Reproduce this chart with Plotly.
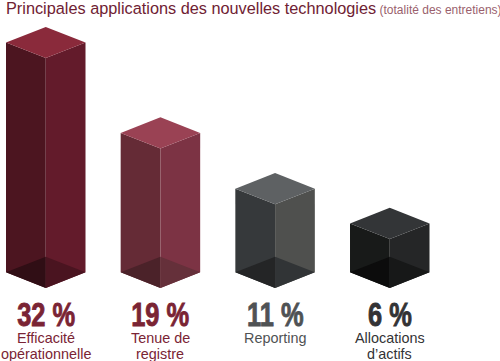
import plotly.graph_objects as go

categories = [["Efficacité", "opérationnelle"], ["Tenue de", "registre"], ["Reporting"], ["Allocations", "d’actifs"]]
values = [32, 19, 11, 6]
value_labels = ["32 %", "19 %", "11 %", "6 %"]
left_face = ["#4c1520", "#652b36", "#36393b", "#181a19"]
right_face = ["#631b2b", "#7c3344", "#4f504e", "#252627"]
top_face = ["#8a2a3b", "#9a4254", "#5e6163", "#333537"]
floor_left = ["#300e15", "#4b2229", "#242526", "#0c0c0c"]
floor_right = ["#4a1420", "#65303a", "#313436", "#171818"]
text_colors = ["#7a2434", "#7a2434", "#4f5254", "#333335"]

W, H = 500, 361
X0, DX = 45.75, 114.67       # px of first category, px between categories
Y0, DY = 280.8, 6.96         # px of value 0, px per value unit
half = 39.75 / DX            # half bar width in category units
depth = 15.6 / DY            # iso depth in value units
base = -1.03                 # front-bottom corner in value units


def face(fig, xs, ys, color):
    fig.add_trace(go.Scatter(x=xs + xs[:1], y=ys + ys[:1], mode="lines", fill="toself",
                             fillcolor=color, line=dict(width=0), hoverinfo="skip",
                             showlegend=False))


fig = go.Figure()
for i, v in enumerate(values):
    l, c, r = i - half, i, i + half
    face(fig, [l, c, c, l], [v + depth, v, base, base + depth], left_face[i])
    face(fig, [c, r, r, c], [v, v + depth, base + depth, base], right_face[i])
    face(fig, [l, c, r, c], [v + depth, v + 2 * depth, v + depth, v], top_face[i])
    face(fig, [l, c, c], [base + depth, base + 2 * depth, base], floor_left[i])
    face(fig, [c, r, c], [base + 2 * depth, base + depth, base], floor_right[i])

    fig.add_annotation(x=i, y=base, yshift=-27, text="<b>%s</b>" % value_labels[i], showarrow=False,
                       yanchor="middle", xanchor="center", name="pct",
                       font=dict(family="Liberation Sans", size=33.5, color=text_colors[i]))
    for j, line in enumerate(categories[i]):
        fig.add_annotation(x=i, y=base, yshift=-50.5 - 15.5 * j, text=line, showarrow=False,
                           yanchor="middle", xanchor="center",
                           font=dict(family="Liberation Sans", size=14.4, color=text_colors[i]))

fig.add_annotation(xref="paper", yref="paper", x=4 / W, y=1 - 8 / H, xanchor="left", yanchor="middle",
                   showarrow=False, align="left", width=W - 5,
                   text='<span style="font-size:16.3px;color:#6f2233">Principales applications des nouvelles technologies</span>'
                        ' <span style="font-size:12px;color:#9a5f6d">(totalité des entretiens)</span>',
                   font=dict(family="Liberation Sans"))

fig.update_layout(width=W, height=H, margin=dict(l=0, r=0, t=0, b=0),
                  paper_bgcolor="white", plot_bgcolor="white", showlegend=False,
                  xaxis=dict(visible=False, range=[(0 - X0) / DX, (W - X0) / DX], fixedrange=True),
                  yaxis=dict(visible=False, range=[(Y0 - H) / DY, Y0 / DY], fixedrange=True))

# Condense the big percentage labels (no narrow bold face is installed); they stay real text.
post = """
document.body.style.margin='0';document.documentElement.style.overflow='hidden';
function squeeze(){
  document.querySelectorAll('text.annotation-text').forEach(function(t){
    if(t.textContent.indexOf('%')<0 || t.textContent.length>5) return;
    t.style.transformBox='fill-box';t.style.transformOrigin='center';
    t.style.transform='scaleX(0.76)';
    t.style.stroke=t.style.fill;t.style.strokeWidth='0.9px';
  });
}
squeeze();setTimeout(squeeze,30);setTimeout(squeeze,200);
"""
fig.write_html("out.html", config={"displayModeBar": False}, post_script=post)
